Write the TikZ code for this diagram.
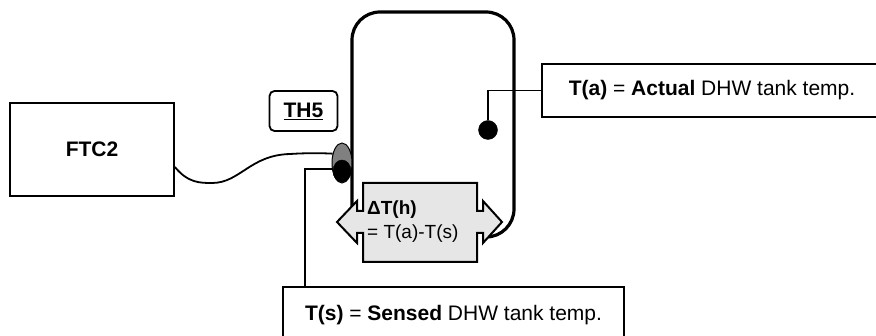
\documentclass[tikz,border=0pt]{standalone}
\usepackage{fontspec}
\setmainfont{Liberation Sans}
\usetikzlibrary{shapes.geometric}
\definecolor{tankgray}{RGB}{230,230,230}
\definecolor{sensorgray}{RGB}{128,128,128}
\tikzset{
  label box/.style={
    draw=black,
    fill=white,
    line width=1.8pt,
    inner sep=0pt,
    align=center,
    font=\fontsize{21}{25}\selectfont,
  },
  delta text/.style={
    anchor=west,
    inner sep=0pt,
    font=\fontsize{19}{23}\selectfont,
  },
  tank line/.style={
    line width=3.2pt,
    draw=black,
  },
  thin line/.style={
    line width=1.8pt,
    draw=black,
  },
}

\begin{document}
\begin{tikzpicture}[x=1pt,y=-1pt]
  \useasboundingbox (0,0) rectangle (876,336);
  \draw[tank line, rounded corners=28pt] (352,208) -- (352,12) -- (514,12) -- (514,237) -- (485,237);

  \node[label box, minimum width=164pt, minimum height=93pt] (ftc) at (92,149.5)
    {\textbf{FTC2}};
  \node[label box, rounded corners=5pt, minimum width=68pt, minimum height=40pt] (thfive) at (303.5,111)
    {\textbf{\underline{TH5}}};
  \node[label box, minimum width=340pt, minimum height=53pt] (tact) at (712,90.5)
    {\textbf{T(a)} = \textbf{Actual} DHW tank temp.};
  \node[label box, minimum width=341pt, minimum height=56pt] (tsense) at (453.5,315)
    {\textbf{T(s)} = \textbf{Sensed} DHW tank temp.};

  \node[draw=black, fill=black, circle, inner sep=0pt, minimum size=19pt] (dot) at (488,130) {};
  \node[draw=black, fill=sensorgray, ellipse, line width=1pt, inner sep=0pt, minimum width=20pt, minimum height=40pt] (sensor) at (342,163) {};
  \node[draw=black, fill=black, ellipse, inner sep=0pt, minimum width=18pt, minimum height=22pt] (bulb) at (342,171) {};

  \coordinate (wirestart) at (ftc.east |- 0,167);
  \coordinate (turn) at (305,169);

  \draw[thin line] (wirestart) .. controls (188,183) and (200,183) .. (212,183)
    .. controls (240,183) and (250,155) .. (290,154)
    .. controls (305,153) and (320,153) .. (sensor.135);
  \draw[thin line] (tsense.north -| turn) -- (turn) -- (turn -| bulb.west);
  \draw[thin line] (tact.west) -| (dot.north);

  \draw[thin line, fill=tankgray, line width=2pt] (363,183) -- (477,183) -- (477,211) -- (483,211) -- (483,201)
    -- (502,222) -- (483,243) -- (483,233) -- (477,233) -- (477,262) -- (363,262)
    -- (363,233) -- (357,233) -- (357,243) -- (337,222) -- (357,201) -- (357,211) -- (363,211) -- cycle;
  \node[delta text] (delta) at (367,210) {\textbf{ΔT(h)}};
  \node[delta text] (deltaeq) at (367,234) {= T(a)-T(s)};
\end{tikzpicture}
\end{document}
